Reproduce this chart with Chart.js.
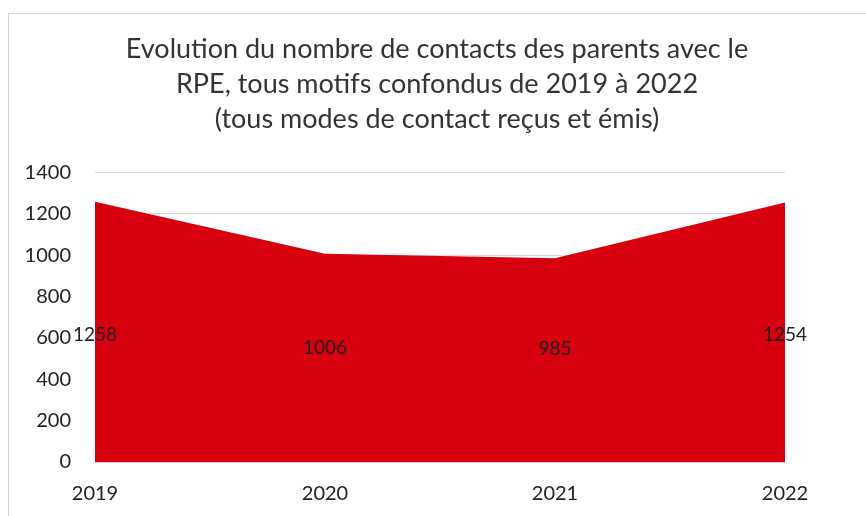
<!DOCTYPE html>
<html>
<head>
<meta charset="utf-8">
<script src="https://cdn.jsdelivr.net/npm/chart.js@4"></script>
<style>
  html, body { margin: 0; padding: 0; background: #fff; }
  #frame { position: absolute; left: 8px; top: 13px; width: 900px; height: 600px; border: 1px solid #d4d4d4; }
  #wrap { position: absolute; left: 0; top: 0; width: 866px; height: 516px; }
</style>
</head>
<body>
<div id="frame"></div>
<div id="wrap"><canvas id="chart" width="866" height="516"></canvas></div>
<script>
// Data
const years = ['2019', '2020', '2021', '2022'];
const contacts = [1258, 1006, 985, 1254];
const yTicks = [0, 200, 400, 600, 800, 1000, 1200, 1400];

const FONT = 'Lato, "Open Sans", sans-serif';

// Value labels, placed around the middle band of the area
const valueLabels = {
  id: 'valueLabels',
  afterDatasetsDraw(chart) {
    const ctx = chart.ctx;
    const x = chart.scales.x, y = chart.scales.y;
    const mid = (y.max + y.min) / 2 - 100;
    ctx.save();
    ctx.font = '19px ' + FONT;
    ctx.fillStyle = '#222';
    ctx.textAlign = 'center';
    ctx.textBaseline = 'middle';
    contacts.forEach((v, i) => {
      ctx.fillText(String(v), x.getPixelForValue(i), y.getPixelForValue((v / 2 + mid) / 2));
    });
    ctx.restore();
  }
};

new Chart(document.getElementById('chart'), {
  type: 'line',
  data: {
    labels: years,
    datasets: [{
      data: contacts,
      fill: 'origin',
      backgroundColor: 'rgb(216,0,14)',
      borderWidth: 0,
      pointRadius: 0,
      tension: 0
    }]
  },
  options: {
    responsive: false,
    animation: false,
    layout: { padding: { left: 8, right: 0, top: 0, bottom: 0 } },
    plugins: {
      legend: { display: false },
      tooltip: { enabled: false },
      title: {
        display: true,
        text: [
          'Evolution du nombre de contacts des parents avec le',
          'RPE, tous motifs confondus de 2019 à 2022',
          '(tous modes de contact reçus et émis)'
        ],
        color: '#333',
        font: { family: FONT, size: 27, weight: 'normal', lineHeight: 1.3 },
        padding: { top: 32, bottom: 35 }
      }
    },
    scales: {
      x: {
        offset: false,
        grid: { display: false, drawTicks: false },
        border: { display: false },
        ticks: { color: '#222', font: { family: FONT, size: 20 }, padding: 20, maxRotation: 0 },
        afterFit(s) { s.height = 54; }
      },
      y: {
        min: 0,
        max: 1400,
        afterBuildTicks(s) { s.ticks = yTicks.map(v => ({ value: v })); },
        grid: { color: '#d6d6d6', lineWidth: 1, drawTicks: false },
        border: { display: false },
        ticks: { color: '#222', font: { family: FONT, size: 20 }, padding: 24, callback: v => String(v) },
        afterFit(s) { s.width = 87; }
      },
      y2: {
        position: 'right',
        display: true,
        grid: { display: false, drawTicks: false },
        border: { display: false },
        ticks: { display: false },
        afterFit(s) { s.width = 81; }
      }
    }
  },
  plugins: [valueLabels]
});
</script>
</body>
</html>
